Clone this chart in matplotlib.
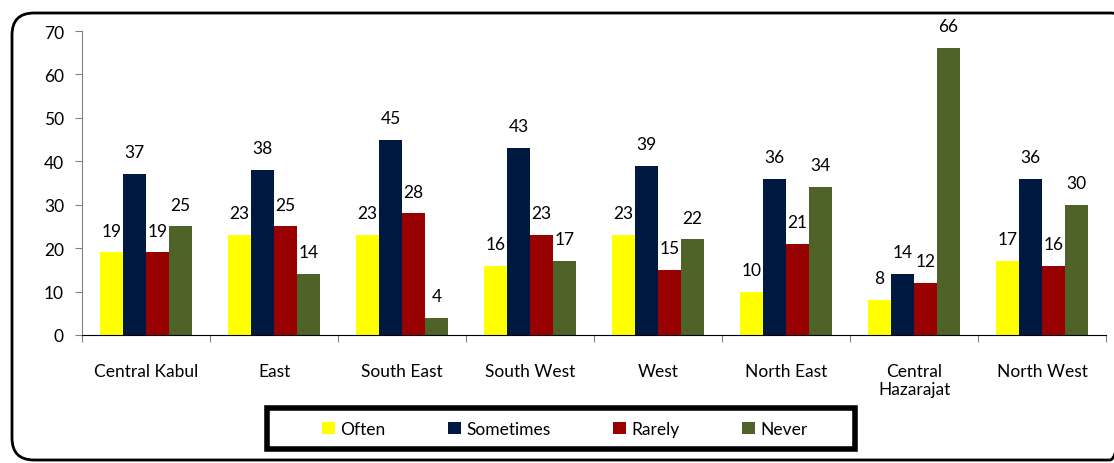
import numpy as np
import matplotlib.pyplot as plt
from matplotlib.patches import FancyBboxPatch, Rectangle

plt.rcParams['font.family'] = ['Lato', 'DejaVu Sans']

regions = ['Central Kabul', 'East', 'South East', 'South West', 'West',
           'North East', 'Central\nHazarajat', 'North West']
often = [19, 23, 23, 16, 23, 10, 8, 17]
sometimes = [37, 38, 45, 43, 39, 36, 14, 36]
rarely = [19, 25, 28, 23, 15, 21, 12, 16]
never = [25, 14, 4, 17, 22, 34, 66, 30]

series = [('Often', often, '#FFFF00'),
          ('Sometimes', sometimes, '#001941'),
          ('Rarely', rarely, '#990000'),
          ('Never', never, '#4F6228')]

fs = 12.5

fig = plt.figure(figsize=(11.14, 4.64), dpi=100)

# outer rounded frame, drawn in pixel space
bg = fig.add_axes([0, 0, 1, 1], zorder=0)
bg.set_xlim(0, 1114)
bg.set_ylim(464, 0)
bg.axis('off')
bg.add_patch(FancyBboxPatch((12, 14), 1120, 447,
                            boxstyle='round,pad=0,rounding_size=22',
                            fill=False, lw=2, ec='black'))
bg.add_patch(Rectangle((267, 409), 588, 41, fill=False, lw=4, ec='black'))

ax = fig.add_axes([82 / 1114, 1 - 336 / 464, 1024 / 1114, 304 / 464], zorder=1)
ax.patch.set_alpha(0)

x = np.arange(len(regions))
w = 0.18
for i, (name, vals, col) in enumerate(series):
    pos = x + (i - 1.5) * w
    ax.bar(pos, vals, w, color=col, label=name)
    for px, v in zip(pos, vals):
        ax.annotate(str(v), (px, v), xytext=(0, 10), textcoords='offset points',
                    ha='center', va='bottom', fontsize=fs)

ax.set_xlim(-0.5, len(regions) - 0.5)
ax.set_ylim(0, 70)
ax.set_yticks(range(0, 71, 10))
ax.set_xticks(np.arange(-0.5, len(regions)), minor=False)
ax.set_xticklabels([])
ax.set_xticks(x, minor=True)
ax.set_xticklabels(regions, minor=True, fontsize=fs)
ax.tick_params(axis='x', which='minor', length=0, pad=20)
ax.tick_params(axis='x', which='major', length=5, color='#808080')
ax.tick_params(axis='y', length=5, color='#808080', labelsize=fs, pad=8)
for s in ['top', 'right']:
    ax.spines[s].set_visible(False)
ax.spines['left'].set_color('#808080')
ax.spines['bottom'].set_color('black')

fig.legend(loc='center', bbox_to_anchor=(565 / 1114, 1 - 430 / 464), ncol=4,
           frameon=False, fontsize=fs, handlelength=0.75, handleheight=0.75,
           handletextpad=0.3, columnspacing=3.6)

fig.savefig('out.png', dpi=100)
